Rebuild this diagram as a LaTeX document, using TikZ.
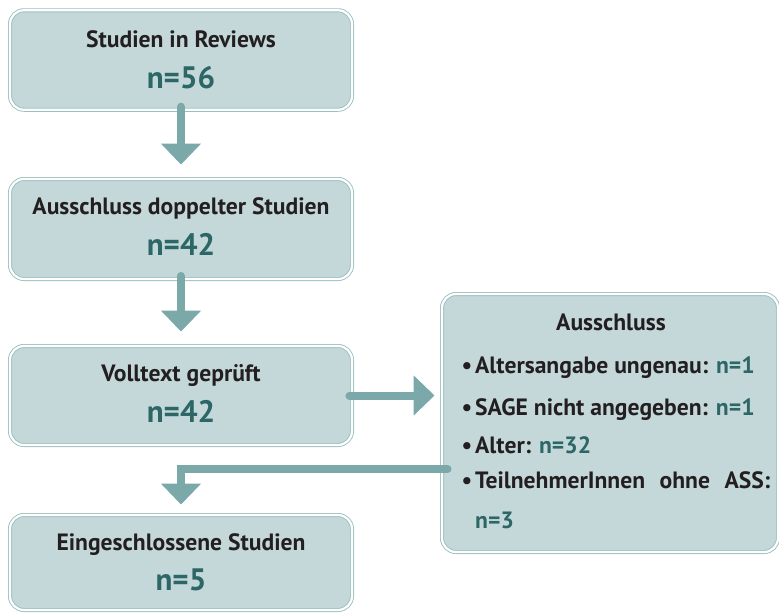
\documentclass[tikz,border=0pt]{standalone}
\usepackage{fontspec}
\setmainfont{PT Sans}
\usetikzlibrary{arrows.meta}
\definecolor{boxfill}{HTML}{C4D8DA}
\definecolor{boxline}{HTML}{9CBFC0}
\definecolor{arrcol}{HTML}{7BA8A9}
\definecolor{ncol}{HTML}{2C6666}
\definecolor{txt}{HTML}{231F20}
\tikzset{
 box/.style={draw=boxline, double=white, double distance=2.2pt, line width=0.9pt, fill=boxfill, rounded corners=14pt, inner sep=0pt},
 ttl/.style={anchor=base, font=\bfseries\fontsize{23.6}{28}\selectfont, text=txt, inner sep=0pt},
 num/.style={anchor=base, font=\bfseries\fontsize{31}{35}\selectfont, text=ncol, inner sep=0pt},
 itm/.style={anchor=base west, font=\bfseries\fontsize{23.6}{28}\selectfont, text=txt, inner sep=0pt},
 arr/.style={draw=arrcol, line width=8pt, line cap=round, -{Triangle[length=21pt,width=39pt]}},
}
\begin{document}
\begin{tikzpicture}[x=1pt,y=-1pt]
\useasboundingbox (0,0) rectangle (779,613);
% boxes
\node[box, minimum width=342pt, minimum height=99.5pt] (b1) at (181,60) {};
\node[box, minimum width=342pt, minimum height=100pt] (b2) at (181,229) {};
\node[box, minimum width=342pt, minimum height=99pt] (b3) at (181,395.5) {};
\node[box, minimum width=342pt, minimum height=95pt] (b4) at (181,562.5) {};
\node[box, minimum width=336pt, minimum height=258pt] (bR) at (610,423) {};
% texts
\node[ttl] (t1) at (181,47) {Studien in Reviews};
\node[num] (n1) at (181,88) {n=56};
\node[ttl] (t2) at (181,214) {Ausschluss doppelter Studien};
\node[num] (n2) at (181,255) {n=42};
\node[ttl] (t3) at (181,381) {Volltext geprüft};
\node[num] (n3) at (181,422) {n=42};
\node[ttl] (t4) at (181,550) {Eingeschlossene Studien};
\node[num] (n4) at (181,590) {n=5};
\node[ttl] (tR) at (611,330) {Ausschluss};
\node[itm] (i1) at (475,373) {\llap{•\hspace{3pt}}Altersangabe ungenau: \textcolor{ncol}{n=1}};
\node[itm] (i2) at (475,415) {\llap{•\hspace{3pt}}SAGE nicht angegeben: \textcolor{ncol}{n=1}};
\node[itm] (i3) at (475,453) {\llap{•\hspace{3pt}}Alter: \textcolor{ncol}{n=32}};
\node[itm] (i4) at (475,488) {\llap{•\hspace{3pt}}\makebox[295pt][s]{TeilnehmerInnen ohne ASS:}};
\node[itm, text=ncol] (i5) at (475,528) {n=3};
% arrows
\draw[arr] ([yshift=3.5pt]b1.south) -- ([yshift=14pt]b2.north);
\draw[arr] ([yshift=3.5pt]b2.south) -- ([yshift=14pt]b3.north);
\draw[arr] ([xshift=-3pt]b3.east) -- ([xshift=-7pt]b3.east -| bR.west);
\draw[arr] ([xshift=6pt,yshift=-46pt]bR.west) -| ([yshift=10pt]b4.north);
\end{tikzpicture}
\end{document}
